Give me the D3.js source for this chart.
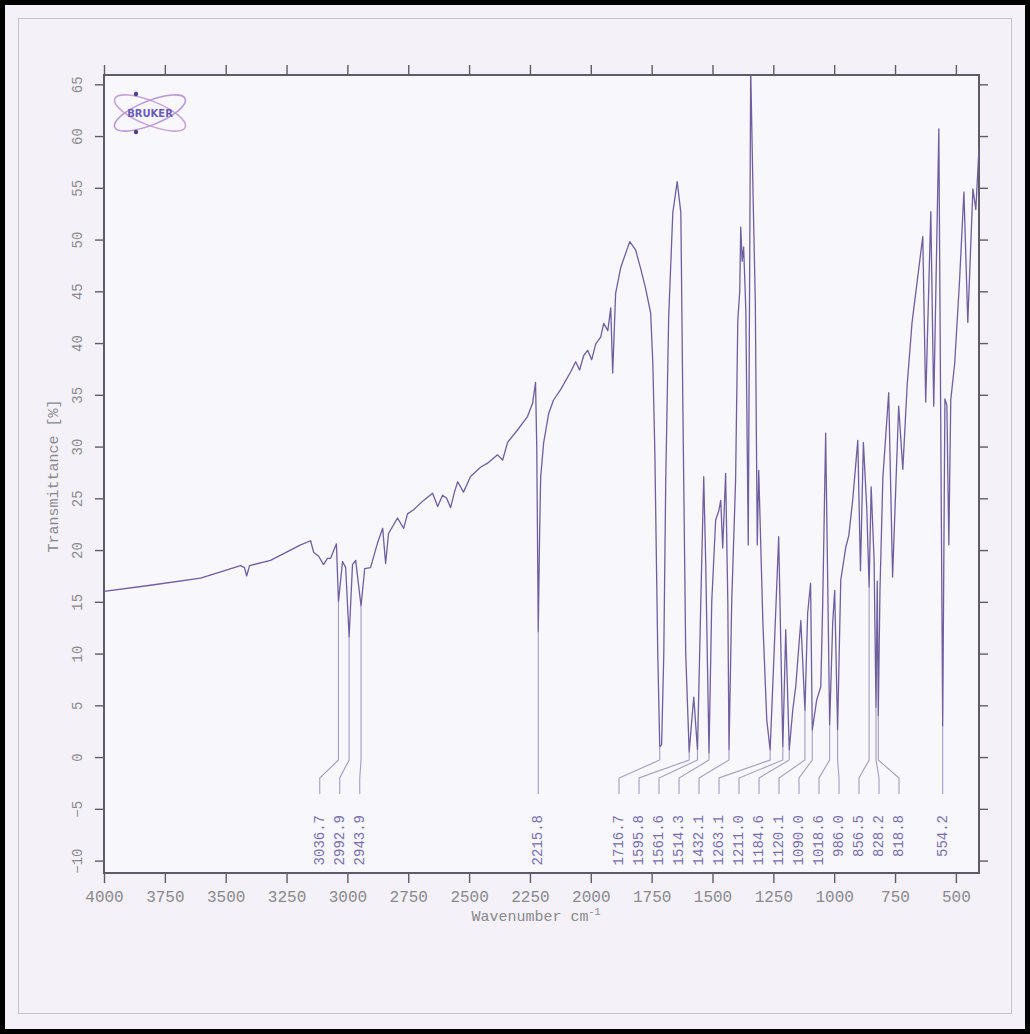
<!DOCTYPE html>
<html>
<head>
<meta charset="utf-8">
<script src="https://cdn.jsdelivr.net/npm/d3@7"></script>
<style>
  body { margin: 0; background: #f4f2f8; }
  svg { display: block; }
</style>
</head>
<body>
<svg id="chart" width="1030" height="1034"></svg>
<script>
// IR spectrum: wavenumber (cm-1) and transmittance (%)
const wavenumber = [4000,3809,3603,3439,3423,3414,3402,3316,3192,3151,
  3139,3118,3098,3082,3069,3045,3036.7,3020,3007,2992.9,
  2979,2966,2943.9,2929,2905,2876,2855,2843,2831,2794,
  2769,2753,2728,2687,2650,2629,2609,2592,2576,2559,
  2547,2523,2494,2453,2424,2383,2362,2342,2301,2260,
  2239,2227,2222,2215.8,2210,2206,2194,2173,2153,2124,
  2083,2062,2046,2029,2013,1996,1980,1959,1947,1930,
  1918,1910,1898,1877,1840,1816,1795,1775,1754,1745,
  1737,1725,1716.7,1709,1700,1692,1680,1663,1645,1630,
  1622,1610,1595.8,1577,1561.6,1548,1536,1528,1514.3,1503,
  1487,1474,1466,1458,1446,1437,1432.1,1421,1405,1396,
  1388,1384,1378,1372,1363,1353,1343,1333,1324,1316,
  1310,1293,1277,1263.1,1248,1228,1211.0,1199,1184.6,1170,
  1158,1137,1120.1,1109,1097,1090.0,1072,1055,1047,1035,
  1018.6,1006,998,986.0,973,952,940,924,903,892,
  880,866,856.5,848,836,828.2,823,818.8,812,800,
  776,760,735,718,700,680,636,624,603,591,
  570,554.2,545,537,529,521,505,485,467,451,
  430,418,405];

const transmittance = [16.0,16.6,17.3,18.5,18.3,17.5,18.5,19.0,20.5,20.9,
  19.8,19.4,18.6,19.2,19.2,20.6,15.0,18.9,18.3,11.6,
  18.6,19.0,14.6,18.2,18.3,20.7,22.1,18.7,21.6,23.1,
  22.1,23.5,23.9,24.8,25.5,24.2,25.3,25.0,24.1,25.7,
  26.6,25.6,27.1,28.0,28.4,29.2,28.7,30.4,31.6,32.9,
  34.2,36.2,30.0,12.1,22.0,27.0,30.3,33.2,34.5,35.5,
  37.2,38.2,37.4,38.8,39.3,38.4,39.9,40.6,41.9,41.2,
  43.4,37.1,44.8,47.3,49.8,49.0,47.2,45.3,42.9,38.0,
  29.7,10.3,1.0,1.2,10.0,26.8,42.5,52.6,55.6,52.6,
  34.5,10.0,0.5,5.8,0.7,15.0,27.1,19.0,0.4,15.0,
  22.9,23.8,24.8,20.2,27.4,15.0,0.7,15.0,26.8,42.2,
  45.0,51.2,47.9,49.3,43.2,20.5,66.5,54.0,43.9,20.5,
  27.7,13.0,3.6,0.7,9.4,21.3,1.0,12.3,0.7,4.6,
  6.8,13.2,4.5,13.9,16.8,2.6,5.5,6.8,15.0,31.3,
  3.1,13.0,16.1,2.6,17.1,20.3,21.4,24.8,30.6,18.0,
  30.4,24.0,16.4,26.1,19.0,4.8,17.0,4.0,16.0,27.0,
  35.2,17.4,33.9,27.8,36.0,42.0,50.3,34.3,52.7,33.9,
  60.7,3.0,34.6,34.0,20.5,34.5,38.0,46.0,54.6,42.0,
  54.9,52.9,58.9];

// Picked peaks (cm-1)
const peaks = [3036.7,2992.9,2943.9,2215.8,1716.7,1595.8,1561.6,1514.3,1432.1,
  1263.1,1211.0,1184.6,1120.1,1090.0,1018.6,986.0,856.5,828.2,818.8,554.2];

const xTicks = [4000,3750,3500,3250,3000,2750,2500,2250,2000,1750,1500,1250,1000,750,500];
const yTicks = [-10,-5,0,5,10,15,20,25,30,35,40,45,50,55,60,65];

const xTitle = "Wavenumber cm";
const yTitle = "Transmittance [%]";
const brand = "BRUKER";

// ---- layout ----
const W = 1030, H = 1034;
const plot = { left: 104, right: 979, top: 75, bottom: 873 };
const mono = "'Liberation Mono', 'DejaVu Sans Mono', monospace";
const inkGray = "#8a8890";
const frameCol = "#5e5c66";
const specCol = "#6e5f9e";
const leaderCol = "#a49cc2";
const labelCol = "#7a6eb0";

const svg = d3.select("#chart");

const x = d3.scaleLinear().domain([4000, 405]).range([plot.left, plot.right]);
const y = d3.scaleLinear().domain([-11.2, 65.9]).range([plot.bottom, plot.top]);

// page background and borders
svg.append("rect").attr("x", 0).attr("y", 0).attr("width", W).attr("height", H).attr("fill", "#f4f2f8");
svg.append("rect").attr("x", 18.5).attr("y", 18.5).attr("width", 993).attr("height", 995)
  .attr("fill", "none").attr("stroke", "#c4c2ca").attr("stroke-width", 1);
svg.append("rect").attr("x", 2.5).attr("y", 2.5).attr("width", W - 5).attr("height", H - 5)
  .attr("fill", "none").attr("stroke", "#000").attr("stroke-width", 5);

// plot area
svg.append("rect")
  .attr("x", plot.left).attr("y", plot.top)
  .attr("width", plot.right - plot.left).attr("height", plot.bottom - plot.top)
  .attr("fill", "#f8f7fb");

svg.append("clipPath").attr("id", "plotClip")
  .append("rect")
  .attr("x", plot.left).attr("y", plot.top)
  .attr("width", plot.right - plot.left).attr("height", plot.bottom - plot.top);

// axes
function styleAxis(g) {
  g.select(".domain").remove();
  g.selectAll(".tick line").attr("stroke", frameCol).attr("stroke-width", 1.4);
  g.selectAll(".tick text").attr("fill", inkGray).attr("font-family", mono);
}

svg.append("g")
  .attr("transform", `translate(0,${plot.bottom})`)
  .call(d3.axisBottom(x).tickValues(xTicks).tickFormat(d3.format("d")).tickSize(10).tickPadding(8))
  .call(styleAxis)
  .call(g => g.selectAll(".tick text").attr("font-size", 16));

svg.append("g")
  .attr("transform", `translate(0,${plot.top})`)
  .call(d3.axisTop(x).tickValues(xTicks).tickFormat("").tickSize(10))
  .call(styleAxis);

const yAxisG = svg.append("g")
  .attr("transform", `translate(${plot.left},0)`)
  .call(d3.axisLeft(y).tickValues(yTicks).tickFormat(d3.format("d")).tickSize(9))
  .call(styleAxis);
yAxisG.selectAll(".tick text")
  .attr("font-size", 14)
  .attr("x", null).attr("dy", null)
  .attr("text-anchor", "middle")
  .attr("dominant-baseline", "central")
  .attr("transform", "translate(-26,0) rotate(-90)");

svg.append("g")
  .attr("transform", `translate(${plot.right},0)`)
  .call(d3.axisRight(y).tickValues(yTicks).tickFormat("").tickSize(9))
  .call(styleAxis);

// frame
svg.append("rect")
  .attr("x", plot.left).attr("y", plot.top)
  .attr("width", plot.right - plot.left).attr("height", plot.bottom - plot.top)
  .attr("fill", "none").attr("stroke", frameCol).attr("stroke-width", 2);

// axis titles
svg.append("text")
  .attr("transform", `translate(54,476) rotate(-90)`)
  .attr("text-anchor", "middle")
  .attr("dominant-baseline", "central")
  .attr("font-family", mono).attr("font-size", 15).attr("fill", inkGray)
  .text(yTitle);

const xt = svg.append("text")
  .attr("x", 536).attr("y", 921)
  .attr("text-anchor", "middle")
  .attr("font-family", mono).attr("font-size", 15).attr("fill", inkGray)
  .text(xTitle);
xt.append("tspan").attr("dy", -6).attr("font-size", 10).text("-1");

// spectrum
const spectrum = wavenumber.map((w, i) => [w, transmittance[i]]);
const line = d3.line().x(d => x(d[0])).y(d => y(d[1]));
svg.append("path")
  .datum(spectrum)
  .attr("clip-path", "url(#plotClip)")
  .attr("fill", "none")
  .attr("stroke", specCol)
  .attr("stroke-width", 1.3)
  .attr("stroke-linejoin", "round")
  .attr("d", line);

// peak labels: crowded labels are gathered into evenly spaced groups,
// each group leaning half a slot towards higher wavenumber
const gap = 20;
const peakT = w => transmittance[wavenumber.indexOf(w)];
let clusters = peaks
  .map(w => ({ w, px: x(w), t: peakT(w) }))
  .sort((a, b) => a.px - b.px)
  .map(p => [p]);

function layout(c) {
  const lo = c[0].px, hi = c[c.length - 1].px;
  const width = (c.length - 1) * gap;
  const lean = c.length > 1 ? gap / 2 : 0;
  const start = (lo + hi) / 2 - width / 2 - lean;
  return { start, end: start + width };
}
let merged = true;
while (merged) {
  merged = false;
  for (let i = 0; i < clusters.length - 1; i++) {
    const a = layout(clusters[i]), b = layout(clusters[i + 1]);
    if (a.end + gap > b.start) {
      clusters.splice(i, 2, clusters[i].concat(clusters[i + 1]));
      merged = true;
      break;
    }
  }
}
const labelled = [];
clusters.forEach(c => {
  const { start } = layout(c);
  c.forEach((p, j) => labelled.push({ ...p, lx: start + j * gap }));
});

const yBendTop = 760, yBendBottom = 778, yLeaderEnd = 794, yTextTop = 815;
const lg = svg.append("g");
lg.selectAll("path")
  .data(labelled)
  .join("path")
  .attr("fill", "none")
  .attr("stroke", leaderCol)
  .attr("stroke-width", 1.1)
  .attr("d", d => {
    const y0 = y(d.t);
    return `M${d.px},${y0}V${Math.max(y0, yBendTop)}L${d.lx},${yBendBottom}V${yLeaderEnd}`;
  });

lg.selectAll("text")
  .data(labelled)
  .join("text")
  .attr("transform", d => `translate(${d.lx},${yTextTop}) rotate(-90)`)
  .attr("text-anchor", "end")
  .attr("dominant-baseline", "central")
  .attr("font-family", mono).attr("font-size", 14)
  .attr("fill", labelCol)
  .text(d => d3.format(".1f")(d.w));

// brand logo
const logo = svg.append("g").attr("transform", "translate(150,113)");
logo.append("ellipse").attr("rx", 38).attr("ry", 12).attr("transform", "rotate(22)")
  .attr("fill", "none").attr("stroke", "#c7a3dc").attr("stroke-width", 1.6);
logo.append("ellipse").attr("rx", 38).attr("ry", 12).attr("transform", "rotate(-22)")
  .attr("fill", "none").attr("stroke", "#b898d6").attr("stroke-width", 1.6);
logo.append("circle").attr("cx", -14).attr("cy", -19).attr("r", 2.2).attr("fill", "#4d3f8e");
logo.append("circle").attr("cx", -14).attr("cy", 19).attr("r", 2.2).attr("fill", "#4d3f8e");
logo.append("text")
  .attr("text-anchor", "middle").attr("dominant-baseline", "central")
  .attr("font-family", "'DejaVu Sans', sans-serif").attr("font-weight", "bold")
  .attr("font-size", 10).attr("fill", "#6a5cb8")
  .text(brand);
</script>
</body>
</html>
